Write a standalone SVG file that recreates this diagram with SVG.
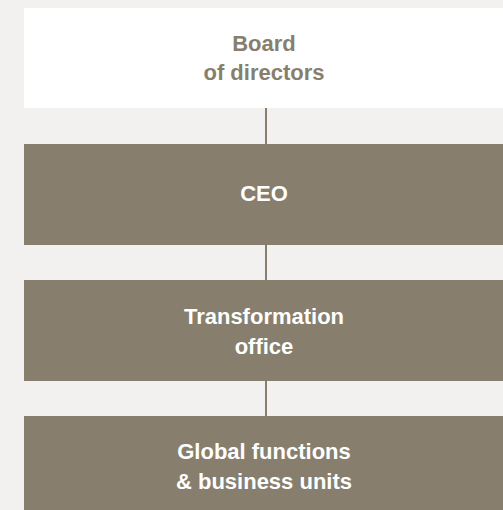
<svg xmlns="http://www.w3.org/2000/svg" width="503" height="510" viewBox="0 0 503 510">
  <style>
    .box { fill: #877e6e; }
    .board { fill: #ffffff; }
    .t { font-family: "Liberation Sans", Arial, sans-serif; font-weight: bold; font-size: 22px; text-anchor: middle; }
    .w { fill: #ffffff; }
    .d { fill: #877e6e; }
    .conn { stroke: #877e6e; stroke-width: 2; fill: none; }
  </style>
  <rect x="0" y="0" width="503" height="510" fill="#f2f1ef"/>
  <g id="connectors">
    <line class="conn" x1="266" y1="108" x2="266" y2="144"/>
    <line class="conn" x1="266" y1="245" x2="266" y2="280"/>
    <line class="conn" x1="266" y1="381" x2="266" y2="416"/>
  </g>
  <g id="board">
    <rect class="board" x="24" y="8" width="479" height="100"/>
    <text class="t d" x="264" y="51">Board</text>
    <text class="t d" x="264" y="80">of directors</text>
  </g>
  <g id="ceo">
    <rect class="box" x="24" y="144" width="479" height="101"/>
    <text class="t w" x="264" y="201">CEO</text>
  </g>
  <g id="transformation">
    <rect class="box" x="24" y="280" width="479" height="101"/>
    <text class="t w" x="264" y="324">Transformation</text>
    <text class="t w" x="264" y="354">office</text>
  </g>
  <g id="global">
    <rect class="box" x="24" y="416" width="479" height="100"/>
    <text class="t w" x="264" y="459">Global functions</text>
    <text class="t w" x="264" y="489">&amp; business units</text>
  </g>
</svg>
